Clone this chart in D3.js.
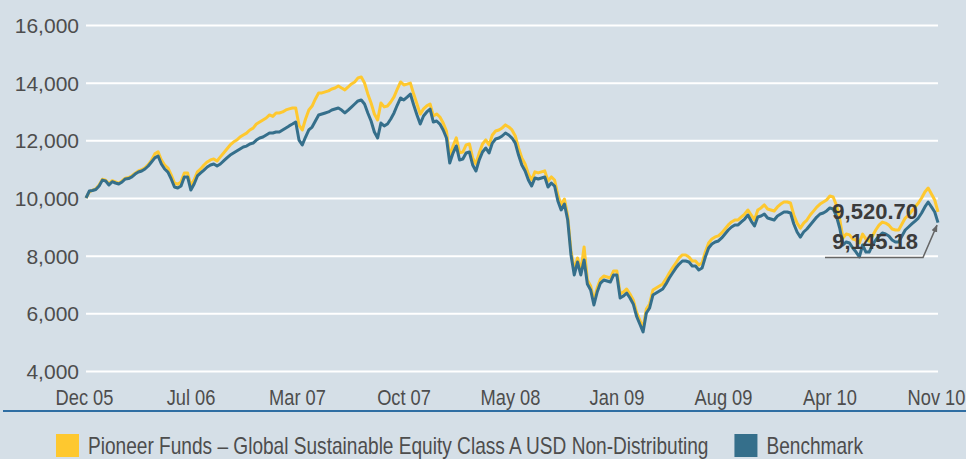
<!DOCTYPE html>
<html>
<head>
<meta charset="utf-8">
<script src="https://cdn.jsdelivr.net/npm/d3@7/dist/d3.min.js"></script>
<style>
  html, body { margin: 0; padding: 0; background: #d5dfe7; }
  svg { display: block; }
</style>
</head>
<body>
<svg id="chart" width="966" height="459"></svg>
<script>
// Growth of 10,000 (USD), weekly observations from Dec 2005 to Nov 2010
const startDate = new Date(2005, 11, 1);
const endDate = new Date(2010, 10, 30);

const fund = [
  10000,10210,10270,10320,10450,10650,10620,10490,10600,10560,
  10510,10590,10690,10710,10770,10860,10940,10980,11050,11160,
  11310,11530,11600,11320,11145,11040,10800,10520,10480,10560,
  10870,10870,10420,10630,10910,11010,11145,11250,11320,11355,
  11285,11425,11560,11700,11840,11940,12010,12115,12185,12250,
  12360,12425,12565,12635,12705,12775,12880,12830,12950,12950,
  12985,13055,13090,13120,13120,12530,12360,12740,13055,13190,
  13435,13645,13645,13680,13715,13780,13815,13885,13815,13750,
  13850,13955,14025,14165,14200,13990,13610,13295,12915,12705,
  13295,13160,13190,13330,13505,13780,14025,13920,13950,13985,
  13605,13260,12910,13090,13195,13260,12845,12915,12810,12600,
  12325,11425,11805,12085,11565,11595,11840,11875,11390,11180,
  11565,11875,12015,11840,12185,12325,12360,12430,12535,12465,
  12360,12150,11735,11390,11180,10835,10625,10905,10870,10905,
  10940,10590,10730,10625,10105,9760,9965,9375,8165,7505,
  7920,7470,8300,7160,6950,6430,6880,7190,7295,7260,
  7225,7470,7470,6670,6740,6845,6670,6465,6045,5770,
  5495,6150,6325,6810,6880,6950,7020,7195,7400,7575,
  7745,7920,8025,8025,7955,7815,7815,7680,7745,8130,
  8440,8580,8650,8685,8790,8925,9065,9170,9240,9240,
  9345,9445,9585,9410,9240,9585,9655,9760,9620,9585,
  9550,9690,9790,9860,9860,9825,9410,9130,8955,9130,
  9235,9410,9545,9685,9790,9860,9930,10070,10035,9755,
  9270,8615,8750,8720,8575,8540,8440,8750,8575,8505,
  8680,8890,9060,9165,9130,9060,8925,8890,8890,9095,
  9305,9410,9550,9685,9825,10000,10210,10345,10140,9930,
  9520.70
];

const benchmark = [
  10000,10240,10260,10295,10420,10620,10590,10450,10565,10520,
  10485,10555,10660,10675,10730,10830,10900,10935,11005,11110,
  11250,11390,11455,11180,11005,10900,10660,10380,10345,10415,
  10730,10730,10275,10485,10765,10870,10970,11075,11145,11180,
  11110,11180,11285,11390,11490,11560,11630,11700,11770,11800,
  11875,11905,12010,12080,12115,12185,12255,12255,12290,12290,
  12360,12430,12500,12565,12635,12010,11840,12115,12360,12460,
  12670,12880,12915,12950,12985,13050,13085,13120,13050,12950,
  13050,13155,13260,13365,13400,13260,12950,12670,12290,12080,
  12600,12500,12565,12740,12950,13225,13470,13400,13500,13605,
  13225,12880,12565,12845,12985,13085,12635,12670,12565,12360,
  12080,11215,11560,11805,11320,11350,11560,11595,11145,10935,
  11320,11595,11735,11560,11905,12045,12080,12150,12255,12185,
  12080,11905,11490,11145,10935,10625,10415,10695,10660,10695,
  10730,10380,10520,10415,9895,9585,9790,9235,8025,7330,
  7780,7330,7850,7020,6810,6290,6740,7050,7155,7120,
  7085,7330,7330,6530,6600,6705,6530,6325,5905,5630,
  5355,6010,6185,6635,6705,6775,6845,7020,7225,7400,
  7570,7710,7815,7815,7780,7640,7640,7505,7570,7955,
  8265,8405,8475,8510,8615,8750,8890,8995,9065,9065,
  9170,9270,9410,9200,9030,9340,9375,9445,9305,9270,
  9235,9375,9445,9515,9515,9480,9100,8820,8645,8820,
  8925,9065,9200,9340,9445,9480,9550,9655,9620,9375,
  8960,8370,8475,8440,8265,8125,7955,8370,8125,8125,
  8370,8545,8680,8785,8750,8680,8545,8475,8475,8680,
  8890,8995,9100,9200,9305,9480,9690,9860,9690,9515,
  9145.18
];

const yTicks = [4000, 6000, 8000, 10000, 12000, 14000, 16000];
const xTickLabels = ["Dec 05", "Jul 06", "Mar 07", "Oct 07", "May 08", "Jan 09", "Aug 09", "Apr 10", "Nov 10"];
const seriesNames = ["Pioneer Funds \u2013 Global Sustainable Equity Class A USD Non-Distributing", "Benchmark"];
const seriesColors = ["#fec82f", "#356f8b"];

const W = 966, H = 459;
const plot = { left: 86, right: 938, top: 25, bottom: 371 };
const textColor = "#4d4d4d";
const font = "'Liberation Sans', Arial, sans-serif";
const narrowScale = 0.83; // condensed look for axis dates and legend

const svg = d3.select("#chart");
svg.append("rect").attr("width", W).attr("height", H).attr("fill", "#d5dfe7");

const x = d3.scaleTime().domain([startDate, endDate]).range([plot.left, plot.right]);
const y = d3.scaleLinear().domain([4000, 16000]).range([plot.bottom, plot.top]);

const span = endDate - startDate;
const dateAt = (i, n) => new Date(+startDate + span * i / (n - 1));

// y axis with white gridlines
svg.append("g")
  .attr("transform", `translate(${plot.left},0)`)
  .call(d3.axisLeft(y).tickValues(yTicks).tickFormat(d3.format(","))
    .tickSize(-(plot.right - plot.left)).tickPadding(7))
  .call(g => g.select(".domain").remove())
  .call(g => g.selectAll(".tick line").attr("stroke", "#ffffff").attr("stroke-width", 2))
  .call(g => g.selectAll(".tick text")
    .attr("font-family", font).attr("font-size", 21)
    .attr("fill", textColor).attr("dy", "0.35em"));

// x axis labels, evenly spaced over the period
const xTickDates = xTickLabels.map((_, i) => dateAt(i, xTickLabels.length));
svg.append("g")
  .attr("transform", "translate(-2,405)")
  .call(d3.axisBottom(x).tickValues(xTickDates).tickFormat((d, i) => xTickLabels[i])
    .tickSize(0).tickPadding(0))
  .call(g => g.select(".domain").remove())
  .call(g => g.selectAll(".tick text")
    .attr("y", 0).attr("dy", 0)
    .attr("transform", `scale(${narrowScale},1)`)
    .attr("font-family", font).attr("font-size", 22).attr("fill", textColor));

// baseline rule under the axis labels
svg.append("line")
  .attr("x1", 3).attr("x2", W).attr("y1", 411).attr("y2", 411)
  .attr("stroke", "#2f6ea3").attr("stroke-width", 2);

// series lines: fund underneath, benchmark on top
const line = n => d3.line()
  .x((d, i) => x(dateAt(i, n)))
  .y(d => y(d));

[fund, benchmark].forEach((s, k) => {
  svg.append("path")
    .datum(s)
    .attr("d", line(s.length))
    .attr("fill", "none")
    .attr("stroke", seriesColors[k])
    .attr("stroke-width", 3)
    .attr("stroke-linejoin", "round");
});

// end-of-period value labels with leader line
const fmt = d3.format(",.2f");
const endX = x(endDate);
const lastFund = fund[fund.length - 1];
const lastBench = benchmark[benchmark.length - 1];

[[lastFund, 219], [lastBench, 249]].forEach(([v, ty]) => {
  svg.append("text")
    .attr("x", endX - 20).attr("y", ty)
    .attr("text-anchor", "end")
    .attr("font-family", font).attr("font-weight", "bold").attr("font-size", 22)
    .attr("fill", "#3b3b3b")
    .text(fmt(v));
});

svg.append("defs").append("marker")
  .attr("id", "arrow").attr("viewBox", "0 0 10 10")
  .attr("refX", 9).attr("refY", 5)
  .attr("markerWidth", 5).attr("markerHeight", 5)
  .attr("orient", "auto")
  .append("path").attr("d", "M0,1 L10,5 L0,9 Z").attr("fill", "#666");

const tipX = endX - 1, tipY = y(lastBench) + 2.5;
svg.append("path")
  .attr("d", `M${endX - 113},257.5 H${endX - 15} L${tipX},${tipY}`)
  .attr("fill", "none").attr("stroke", "#666").attr("stroke-width", 1.5)
  .attr("marker-end", "url(#arrow)");

// legend
const legend = svg.append("g");
let lx = 56;
seriesNames.forEach((name, k) => {
  legend.append("rect")
    .attr("x", lx).attr("y", 434).attr("width", 23).attr("height", 23)
    .attr("fill", seriesColors[k]);
  const t = legend.append("text")
    .attr("transform", `translate(${lx + 32},454) scale(${narrowScale},1)`)
    .attr("font-family", font).attr("font-size", 23).attr("fill", textColor)
    .text(name);
  lx = lx + 32 + t.node().getComputedTextLength() * narrowScale + 26;
});
</script>
</body>
</html>
